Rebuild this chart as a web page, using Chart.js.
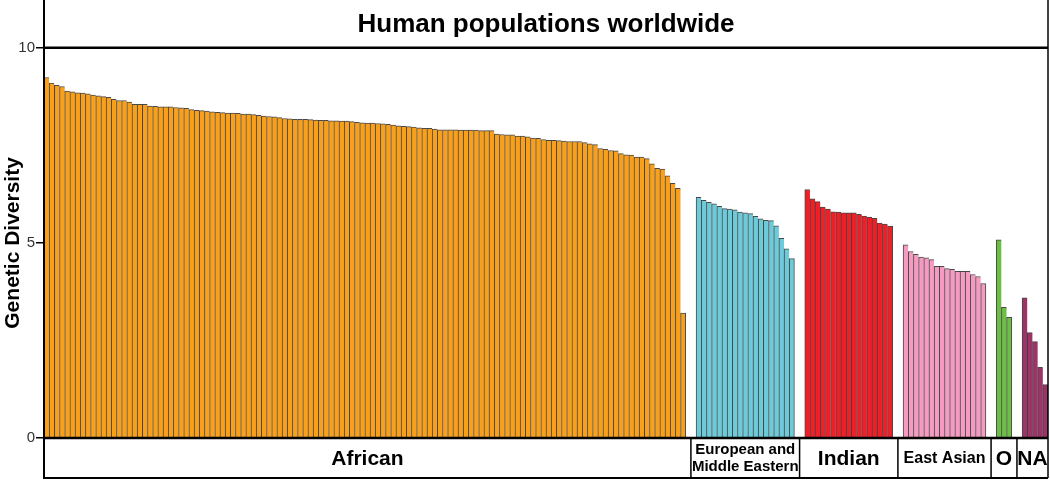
<!DOCTYPE html>
<html>
<head>
<meta charset="utf-8">
<script src="https://cdn.jsdelivr.net/npm/chart.js@4.4.0/dist/chart.umd.min.js"></script>
<style>
  body { margin: 0; background: #fff; }
  #wrap { width: 1050px; height: 481px; }
</style>
</head>
<body>
<div id="wrap"><canvas id="myChart" width="1050" height="481"></canvas></div>
<script>
// values, each group sorted high to low
const african = [
  9.24, 9.10, 9.04, 9.01, 8.89, 8.87, 8.85, 8.84, 8.82, 8.79, 8.77, 8.75, 8.73, 8.68, 8.65, 8.65, 8.61, 8.55, 8.55, 8.55, 8.51, 8.50, 8.49, 8.49, 8.49,
  8.47, 8.46, 8.45, 8.42, 8.40, 8.39, 8.38, 8.36, 8.35, 8.34, 8.33, 8.33, 8.32, 8.30, 8.30, 8.29, 8.27, 8.25, 8.24, 8.23, 8.21, 8.19, 8.18, 8.17, 8.17,
  8.17, 8.16, 8.15, 8.14, 8.14, 8.13, 8.13, 8.12, 8.12, 8.11, 8.09, 8.08, 8.07, 8.07, 8.06, 8.05, 8.04, 8.02, 8.00, 7.99, 7.98, 7.97, 7.95, 7.94, 7.94,
  7.92, 7.90, 7.90, 7.90, 7.90, 7.89, 7.89, 7.89, 7.89, 7.88, 7.88, 7.88, 7.79, 7.78, 7.77, 7.77, 7.74, 7.74, 7.72, 7.69, 7.68, 7.65, 7.63, 7.63, 7.62,
  7.61, 7.60, 7.60, 7.60, 7.57, 7.54, 7.52, 7.42, 7.40, 7.37, 7.36, 7.29, 7.26, 7.25, 7.20, 7.20, 7.16, 7.03, 6.91, 6.89, 6.72, 6.53, 6.40, 3.20
];
const european = [6.17, 6.09, 6.04, 6.00, 5.94, 5.88, 5.87, 5.85, 5.79, 5.77, 5.75, 5.68, 5.62, 5.58, 5.57, 5.44, 5.12, 4.85, 4.60];
const indian = [6.37, 6.13, 6.06, 5.92, 5.87, 5.80, 5.79, 5.77, 5.77, 5.77, 5.73, 5.69, 5.66, 5.63, 5.51, 5.48, 5.43];
const eastAsian = [4.95, 4.78, 4.71, 4.64, 4.62, 4.57, 4.40, 4.40, 4.34, 4.32, 4.27, 4.27, 4.27, 4.19, 4.14, 3.96];
const oceanian = [5.08, 3.35, 3.09];
const nativeAmerican = [3.59, 2.70, 2.47, 1.81, 1.37];

const groupValues = [african, european, indian, eastAsian, oceanian, nativeAmerican];
const groupLabels = ['African', ['European and', 'Middle Eastern'], 'Indian', 'East Asian', 'O', 'NA'];
const groupColors = ['#F8A01C', '#6CCAD9', '#EE1F26', '#F59BC2', '#6CBE45', '#9C3467'];
const tickValues = [0, 5, 10];
const gapSize = 2;

// flatten groups into one category list, with empty slots between groups
const labels = [];
const values = [];
const colors = [];
const lastInGroup = [];
const groupSpans = [];
groupValues.forEach(function (vals, g) {
    if (g > 0) {
        for (let k = 0; k < gapSize; k++) {
            labels.push('');
            values.push(null);
            colors.push('rgba(0,0,0,0)');
            lastInGroup.push(false);
        }
    }
    const start = values.length;
    vals.forEach(function (v, i) {
        labels.push(g + '-' + i);
        values.push(v);
        colors.push(groupColors[g]);
        lastInGroup.push(i === vals.length - 1);
    });
    groupSpans.push([start, values.length - 1]);
});

const FONT = '"Liberation Sans", Arial, sans-serif';

const boxPlugin = {
    id: 'boxes',
    afterDraw: function (chart) {
        const c = chart.ctx;
        const area = chart.chartArea;
        const x = chart.scales.x;
        const y = chart.scales.y;
        const y10 = y.getPixelForValue(10);
        const y0 = y.getPixelForValue(0);
        const bottom = y0 + 40;

        c.save();
        c.strokeStyle = '#000';

        // title box
        c.lineWidth = 2.5;
        c.beginPath();
        c.moveTo(area.left, y10);
        c.lineTo(area.right, y10);
        c.stroke();
        c.lineWidth = 2;
        c.beginPath();
        c.moveTo(area.left, 0);
        c.lineTo(area.left, y0);
        c.stroke();
        c.lineWidth = 1.5;
        c.beginPath();
        c.moveTo(area.right, 0);
        c.lineTo(area.right, bottom);
        c.stroke();

        c.fillStyle = '#000';
        c.textAlign = 'center';
        c.textBaseline = 'middle';
        c.font = 'bold 26px ' + FONT;
        c.fillText('Human populations worldwide', (area.left + area.right) / 2, y10 / 2 + 1);

        // group label boxes along the bottom
        c.lineWidth = 2.5;
        c.beginPath();
        c.moveTo(area.left - 1, y0);
        c.lineTo(area.right, y0);
        c.stroke();
        c.lineWidth = 2;
        c.beginPath();
        c.moveTo(area.left, y0);
        c.lineTo(area.left, bottom);
        c.lineTo(area.right, bottom);
        c.stroke();

        const edges = [area.left];
        for (let g = 0; g < groupSpans.length - 1; g++) {
            const e = groupSpans[g][1];
            edges.push((x.getPixelForValue(e + 1) + x.getPixelForValue(e + 2)) / 2);
        }
        edges.push(area.right);

        c.lineWidth = 1.5;
        for (let g = 1; g < edges.length - 1; g++) {
            c.beginPath();
            c.moveTo(edges[g], y0);
            c.lineTo(edges[g], bottom);
            c.stroke();
        }

        for (let g = 0; g < groupLabels.length; g++) {
            const cx = (edges[g] + edges[g + 1]) / 2;
            const lab = groupLabels[g];
            if (Array.isArray(lab)) {
                c.font = 'bold 15px ' + FONT;
                c.fillText(lab[0], cx, y0 + 12);
                c.fillText(lab[1], cx, y0 + 29);
            } else if (lab === 'East Asian') {
                c.font = 'bold 16px ' + FONT;
                c.fillText(lab, cx, y0 + 21);
            } else {
                c.font = 'bold 21px ' + FONT;
                c.fillText(lab, cx, y0 + 21);
            }
        }

        // y axis title
        c.translate(13, y.getPixelForValue(5));
        c.rotate(-Math.PI / 2);
        c.font = 'bold 21px ' + FONT;
        c.fillText('Genetic Diversity', 0, 0);
        c.restore();
    }
};

const ctx = document.getElementById('myChart').getContext('2d');

const myChart = new Chart(ctx, {
    type: 'bar',
    data: {
        labels: labels,
        datasets: [{
            data: values,
            backgroundColor: colors,
            borderColor: 'rgba(40, 40, 40, 0.85)',
            borderSkipped: false,
            borderWidth: function (context) {
                const last = lastInGroup[context.dataIndex];
                return { top: 1, left: 1, right: last ? 1 : 0, bottom: 0 };
            },
            categoryPercentage: 1,
            barPercentage: 1
        }]
    },
    options: {
        responsive: false,
        animation: false,
        layout: {
            padding: { top: 1, right: 2, bottom: 43, left: 0 }
        },
        plugins: {
            legend: { display: false },
            tooltip: { enabled: false }
        },
        scales: {
            x: {
                display: false
            },
            y: {
                min: 0,
                max: 10.97,
                afterBuildTicks: function (scale) {
                    scale.ticks = tickValues.map(function (v) { return { value: v }; });
                },
                afterFit: function (scale) {
                    scale.width = 44;
                },
                grid: {
                    drawOnChartArea: false,
                    drawTicks: true,
                    tickLength: 8,
                    color: '#000',
                    lineWidth: 1.5
                },
                border: {
                    display: true,
                    color: '#000',
                    width: 2
                },
                ticks: {
                    padding: 1,
                    color: '#333',
                    font: { family: FONT, size: 15 }
                }
            }
        }
    },
    plugins: [boxPlugin]
});
</script>
</body>
</html>
